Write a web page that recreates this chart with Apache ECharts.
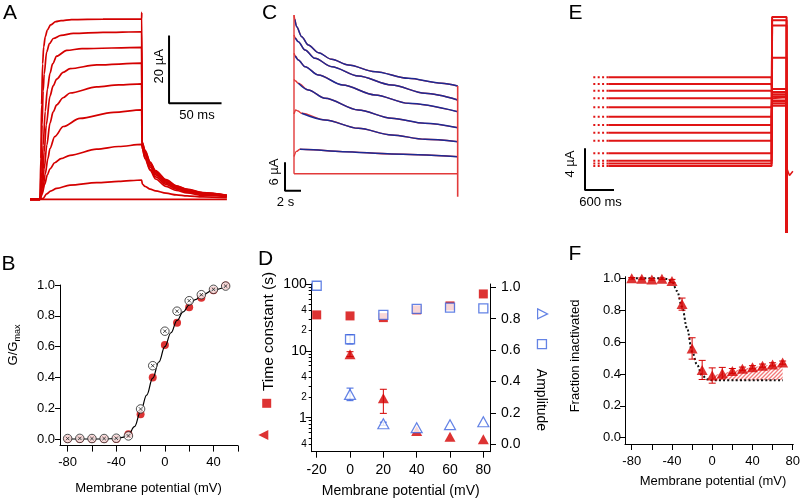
<!DOCTYPE html>
<html><head><meta charset="utf-8">
<script src="https://cdn.jsdelivr.net/npm/echarts@6/dist/echarts.min.js"></script>
<style>html,body{margin:0;padding:0;background:#fff}#c{width:800px;height:498px}</style>
</head><body><div id="c"></div>
<script>
// ================= DATA =================
// Panel A: activation traces, [time (ms), current (µA)]
const aTrace1 = [[-9.5,0],[0,0],[0.8,12],[1.5,28],[2.5,40],[3.5,45],[5,48],[7,50],[10,51.5],[15,52.5],[20,52.8],[30,53.1],[60,53.2],[96.8,53.3],[96.9,55.2],[97.2,17],[100,14.5],[105,11],[110,8.5],[120,5.8],[130,4.0],[140,3.0],[155,2.0],[178,1.2]];
const aTrace2 = [[-9.5,0],[0,0],[1,8],[2,22],[3,32],[4,37],[6.3,43.5],[9,46],[12.7,47.5],[20,48.4],[31.7,49.0],[60,49.3],[96.8,49.5],[97.2,16.8],[100,14.2],[105,10.8],[110,8.3],[120,5.6],[130,3.9],[140,2.9],[155,1.9],[178,1.2]];
const aTrace3 = [[-9.5,0],[0,0],[1.5,6],[3,16],[5,26],[7,32.5],[9.5,37.2],[12,40],[15.9,42.3],[25.4,44],[40,44.5],[96.8,44.9],[97.2,16.5],[100,13.9],[105,10.5],[110,8.0],[120,5.4],[130,3.7],[140,2.8],[155,1.8],[178,1.1]];
const aTrace4 = [[-9.5,0],[0,0],[2,5],[4,14],[6,22],[9.5,30.5],[12.5,33.5],[15.9,35.5],[22,37.5],[28.6,38.6],[54,39.7],[96.8,40.2],[97.2,16.2],[100,13.5],[105,10.0],[110,7.6],[120,5.1],[130,3.5],[140,2.6],[155,1.7],[178,1.0]];
const aTrace5 = [[-9.5,0],[0,0],[2,3],[4,9],[6.5,16],[9.5,22.5],[12.5,25.8],[15.9,27.9],[22,30],[28.6,31.4],[54,33.2],[75,33.8],[96.8,34.1],[97.2,15.8],[100,13.0],[105,9.5],[110,7.2],[120,4.8],[130,3.3],[140,2.5],[155,1.6],[178,1.0]];
const aTrace6 = [[-9.5,0],[0,0],[2.5,2.5],[5,7.5],[7.5,12],[9.5,15],[14,18.5],[22.2,21.5],[38,23.9],[70,25.7],[96.8,26.4],[97.2,15.5],[100,12.3],[105,8.8],[110,6.6],[120,4.4],[130,3.0],[140,2.2],[155,1.5],[178,0.9]];
const aTrace7 = [[-9.5,0],[0,0],[2,1.5],[4.5,4.5],[7,7.2],[9.5,9],[14,10.8],[20,12],[28.6,13],[54,14.8],[75,15.6],[96.8,16.2],[97.5,15],[100,12],[105,8.5],[110,6],[120,3.8],[130,2.6],[140,1.9],[155,1.2],[178,0.8]];
const aTrace8 = [[-9.5,0],[0,0],[3,0.3],[6.3,1.6],[10,2.4],[15.9,3.2],[28.6,4.2],[54,4.9],[75,5.3],[96.8,5.7],[97.5,4.5],[100,3.8],[105,3.0],[110,2.5],[120,1.8],[130,1.3],[140,1.0],[155,0.7],[178,0.5]];
const aTrace9 = [[-9.5,0],[178,0]];
const aTraces = [aTrace1,aTrace2,aTrace3,aTrace4,aTrace5,aTrace6,aTrace7,aTrace8,aTrace9];
const aScaleOrigin = [122.9, 28.4];   // ms, µA
const aScaleLen = [50, 20];           // 50 ms, 20 µA

// Panel B: normalized conductance
const bVoltage = [-80,-70,-60,-50,-40,-30,-20,-10,0,10,20,30,40,50];
const bFilled  = [0,0,0,0,0,0.03,0.16,0.40,0.61,0.755,0.855,0.918,0.966,0.997];
const bOpen    = [0.003,0.004,0.003,0.003,0.005,0.02,0.195,0.476,0.70,0.83,0.898,0.937,0.972,0.993];
const bFitV = [-80,-50,-40,-35,-30,-25,-20,-15,-10,-5,0,5,10,15,20,25,30,40,50];
const bFitG = [0,0,0.003,0.01,0.028,0.08,0.177,0.285,0.395,0.5,0.6,0.69,0.77,0.825,0.87,0.905,0.932,0.968,0.99];
const bXTicks = [-80,-60,-40,-20,0,20,40,60];
const bXLabels = [-80,-40,0,40];
const bYTicks = [0,0.2,0.4,0.6,0.8,1.0];

// Panel C: inactivating traces [time (s), current (µA)]
const cTrace1 = [[0,33.4],[0.1,32.5],[0.33,30.95],[0.96,28.85],[1.79,27.1],[3.04,25.48],[4.71,24.08],[6.79,22.88],[10.13,21.48],[14.3,20.07],[18.46,19.03],[20.46,18.46]];
const cTrace2 = [[0,29.2],[0.15,28.6],[0.54,27.8],[1.375,26.04],[2.625,24.29],[4.71,22.53],[8.04,20.57],[12.2,18.67],[16.375,16.92],[20.46,15.52]];
const cTrace3 = [[0,25.34],[0.15,24.8],[0.54,23.94],[1.375,22.53],[3.04,20.78],[6.08,18.67],[10.13,16.57],[14.3,14.81],[20.46,13.06]];
const cTrace4 = [[0,19.87],[0.2,19.5],[0.54,19.03],[1.79,17.62],[3.875,15.87],[8.04,13.41],[12.2,11.66],[16.375,10.6],[20.46,9.69]];
const cTrace5 = [[0,12.6],[0.21,13.41],[0.5,13.2],[0.96,12.71],[3.875,11.31],[8.04,9.55],[12.2,8.15],[16.375,7.24],[20.46,6.74]];
const cTrace6 = [[0,3.6],[0.3,4.7],[0.75,5.13],[1.5,5.1],[6.08,4.64],[12.2,4.15],[20.46,3.59]];
const cTrace7 = [[0,0],[20.46,0]];
const cTraces = [cTrace1,cTrace2,cTrace3,cTrace4,cTrace5,cTrace6,cTrace7];
const cFitStart = [0.05,0.1,0.1,0.3,0.6,0.7,4.7];   // s, where the fitted curve begins
const cEndLevel = -4.84;                          // µA after the step back
const cScaleOrigin = [-1.125, -3.58];
const cScaleLen = [2, 6];                         // 2 s, 6 µA

// Panel E: prepulse traces [µA] and test-pulse currents [µA]
const ePrepulse = [8.32,7.68,7.04,6.30,5.44,4.54,3.74,3.00,2.23,1.03,0.3,0.05,-0.2];
const eTest     = [6.9,7.2,6.7,6.4,6.1,6.0,5.8,6.5,5.6,10.2,13.3,13.8,14.1];
const eTimes = [0, 310, 3690, 3700, 4000];        // ms: start, end of dotted, end prepulse, test on, test off
const eDrop = -6.6;
const eTail = [[4000,-6.6],[4012,-0.5],[4060,-1.1],[4130,-0.7]];
const eScaleOrigin = [-172, -2.5];
const eScaleLen = [600, 4];                       // 600 ms, 4 µA

// Panel D
const dVoltage = [-20,0,20,40,60,80];
const dTauSlow = [34.5,33.3,31.4,41,47,71];
const dAmpSlow = [1.01,0.669,0.824,0.862,0.87,0.866];
const dFastVoltage = [0,20,40,60,80];
const dTauFast = [8.9,1.95,0.632,0.52,0.475];
const dAmpFast = [0.318,0.131,0.106,0.125,0.144];
const dTauFastErr = [[0,8.2,9.7],[20,1.16,2.66]];
const dAmpSlowErr = [[0,0.639,0.699]];
const dAmpFastErr = [[0,0.278,0.358],[20,0.121,0.141]];
const dXTicks = [-20,0,20,40,60,80];
const dTauMinorTicks = [0.4,0.5,0.6,0.7,0.8,0.9,2,3,4,5,6,7,8,9,20,30,40,50,60,70,80,90];
const dTauMajorTicks = [1,10,100];
const dTauMinorLabelValues = [0.4,2,4,20,40];
const dTauMinorLabels = ['4','2','4','2','4'];
const dTauMajorLabels = ['1','10','100'];
const dAmpTicks = [0,0.2,0.4,0.6,0.8,1.0];

// Panel F
const fVoltage = [-80,-70,-60,-50,-40,-30,-20,-10,0,10,20,30,40,50,60,70];
const fFrac = [1.0,0.997,0.993,0.997,0.983,0.838,0.56,0.425,0.39,0.405,0.419,0.433,0.442,0.452,0.46,0.471];
const fErr  = [0.005,0.005,0.005,0.005,0.01,0.038,0.067,0.06,0.048,0.036,0.015,0.01,0.01,0.01,0.01,0.01];
const fFitV = [-80,-50,-45,-40,-35,-30,-25,-20,-15,-10,-5,0,10,70];
const fFitY = [1.0,1.0,0.995,0.98,0.92,0.822,0.686,0.54,0.456,0.39,0.367,0.36,0.36,0.36];
const fXTicks = [-80,-60,-40,-20,0,20,40,60,80];
const fXLabels = [-80,-40,0,40,80];
const fYTicks = [0,0.2,0.4,0.6,0.8,1.0];

// ================= STYLE =================
const FONT = 'Liberation Sans, Arial, sans-serif';
const RED = '#d40000';
const RED_C = '#e23a3a';
const BLUE_C = '#1c2a94';
const BLUE_D = '#3d64de';
const RED_E = '#e01414';
const L10 = Math.log10;
const zip = (xs, ys) => xs.map((x, i) => [x, ys[i]]);

const chart = echarts.init(document.getElementById('c'), null, {renderer: 'canvas'});

function hiddenAxis(grid, min, max) {
  return {type: 'value', gridIndex: grid, min, max, show: false, splitLine: {show: false}};
}
function axis(grid, min, max, o) {
  const base = {
    type: 'value', gridIndex: grid, min, max,
    splitLine: {show: false},
    axisLine: {show: true, onZero: false, lineStyle: {color: '#000', width: 1}},
    axisTick: {show: true, inside: false, length: 5, lineStyle: {color: '#000', width: 1}},
    axisLabel: {show: true, color: '#000', fontFamily: FONT, fontSize: 13, margin: 6}
  };
  const r = Object.assign({}, base, o);
  if (o.axisLine) r.axisLine = Object.assign({}, base.axisLine, o.axisLine);
  if (o.axisTick) r.axisTick = Object.assign({}, base.axisTick, o.axisTick);
  if (o.axisLabel) r.axisLabel = Object.assign({}, base.axisLabel, o.axisLabel);
  return r;
}

// hatch pattern
const hc = document.createElement('canvas'); hc.width = 4; hc.height = 4;
const hg = hc.getContext('2d'); hg.strokeStyle = '#f37a7a'; hg.lineWidth = 1.3;
hg.beginPath(); hg.moveTo(0,4); hg.lineTo(4,0); hg.moveTo(-1,1); hg.lineTo(1,-1); hg.moveTo(3,5); hg.lineTo(5,3); hg.stroke();

const circleX = 'path://M0,10A10,10,0,1,1,20,10A10,10,0,1,1,0,10Z M6,6L14,14 M14,6L6,14';

function errSeries(xi, yi, data, color, capW, z) {
  return {
    type: 'custom', xAxisIndex: xi, yAxisIndex: yi, data, z, silent: true,
    encode: {x: 0, y: [1, 2]},
    renderItem(params, api) {
      const x = api.value(0), lo = api.value(1), hi = api.value(2);
      const p1 = api.coord([x, lo]), p2 = api.coord([x, hi]);
      const s = {stroke: color, lineWidth: 1};
      return {type: 'group', children: [
        {type: 'line', shape: {x1: p1[0], y1: p1[1], x2: p2[0], y2: p2[1]}, style: s},
        {type: 'line', shape: {x1: p1[0]-capW, y1: p1[1], x2: p1[0]+capW, y2: p1[1]}, style: s},
        {type: 'line', shape: {x1: p2[0]-capW, y1: p2[1], x2: p2[0]+capW, y2: p2[1]}, style: s}
      ]};
    }
  };
}
function lineS(xi, yi, data, color, width, extra) {
  return Object.assign({type: 'line', xAxisIndex: xi, yAxisIndex: yi, data, symbol: 'none', showSymbol: false,
    silent: true, lineStyle: {color, width}, z: 2}, extra || {});
}
function scaleBar(xi, yi, origin, len) {
  return lineS(xi, yi, [[origin[0]+len[0], origin[1]], origin, [origin[0], origin[1]+len[1]]], '#000', 2, {z: 5});
}

const series = [];
// ---- A
aTraces.forEach(tr => series.push(lineS(0, 0, tr, RED, 1.7, {smooth: 0.3, smoothMonotone: 'x'})));
series.push(scaleBar(0, 0, aScaleOrigin, aScaleLen));

// ---- B
series.push(lineS(1, 1, zip(bFitV, bFitG), '#000', 1.2, {smooth: 0.4, smoothMonotone: 'x', z: 4}));
series.push({type: 'scatter', xAxisIndex: 1, yAxisIndex: 1, data: zip(bVoltage, bFilled), symbol: 'circle', symbolSize: 8,
  itemStyle: {color: RED}, z: 3, silent: true});
series.push({type: 'scatter', xAxisIndex: 1, yAxisIndex: 1, data: zip(bVoltage, bOpen), symbol: circleX, symbolSize: 8.5,
  itemStyle: {color: '#fff', borderColor: '#222', borderWidth: 1}, z: 5, silent: true});

// ---- C
cTraces.forEach((tr, i) => {
  series.push(lineS(2, 2, tr, RED_C, 1.4, {smooth: 0.3, smoothMonotone: 'x'}));
  series.push(lineS(2, 2, tr.filter(p => p[0] >= cFitStart[i]), BLUE_C, 1.5, {smooth: 0.3, smoothMonotone: 'x', z: 3}));
});
series.push(lineS(2, 2, [[0, 0], [0, cTrace1[0][1]]], RED_C, 1.4, {z: 4}));
series.push(lineS(2, 2, [[cTrace1[cTrace1.length-1][0], cTrace1[cTrace1.length-1][1]], [cTrace1[cTrace1.length-1][0], cEndLevel]], RED_C, 1.6, {z: 4}));
series.push(scaleBar(2, 2, cScaleOrigin, cScaleLen));

// ---- E
ePrepulse.forEach((L, i) => {
  series.push(lineS(4, 6, [[eTimes[0], L], [eTimes[1], L]], RED_E, 2, {lineStyle: {color: RED_E, width: 2, type: [2, 2.4]}}));
  series.push(lineS(4, 6, [[eTimes[1], L], [eTimes[2], L], [eTimes[3], eTest[i]], [eTimes[4], eTest[i]], [eTimes[4], eDrop]], RED_E, 2));
});
series.push(lineS(4, 6, eTail, RED_E, 1.5));
series.push(scaleBar(4, 6, eScaleOrigin, eScaleLen));

// ---- D
series.push({name: 'Tau slow', type: 'scatter', xAxisIndex: 3, yAxisIndex: 3, data: dVoltage.map((v, i) => [v, L10(dTauSlow[i])]),
  symbol: 'rect', symbolSize: 9, itemStyle: {color: RED}, z: 3, silent: true});
series.push(errSeries(3, 3, dTauFastErr.map(e => [e[0], L10(e[1]), L10(e[2])]), RED, 3.5, 3));
series.push({name: 'Tau fast', type: 'scatter', xAxisIndex: 3, yAxisIndex: 3, data: dFastVoltage.map((v, i) => [v, L10(dTauFast[i])]),
  symbol: 'triangle', symbolSize: [11, 10], itemStyle: {color: RED}, z: 3, silent: true});
series.push(errSeries(3, 5, dAmpSlowErr, BLUE_D, 3.5, 4));
series.push(errSeries(3, 5, dAmpFastErr, BLUE_D, 3.5, 4));
series.push({name: 'Amp slow', type: 'scatter', xAxisIndex: 3, yAxisIndex: 5, data: zip(dVoltage, dAmpSlow),
  symbol: 'rect', symbolSize: 9, itemStyle: {color: '#fff', borderColor: BLUE_D, borderWidth: 1.3}, z: 5, silent: true});
series.push({name: 'Amp fast', type: 'scatter', xAxisIndex: 3, yAxisIndex: 5, data: zip(dFastVoltage, dAmpFast),
  symbol: 'triangle', symbolSize: [11, 10], itemStyle: {color: '#fff', borderColor: BLUE_D, borderWidth: 1.2}, z: 5, silent: true});

// ---- F
const hatchFrom = fVoltage.indexOf(0);
series.push(lineS(5, 7, zip(fVoltage.slice(hatchFrom), fFrac.slice(hatchFrom)), RED, 0,
  {lineStyle: {width: 0, opacity: 0}, areaStyle: {color: {image: hc, repeat: 'repeat'}, origin: fFitY[fFitY.length-1], opacity: 1}, z: 1}));
series.push(lineS(5, 7, zip(fFitV, fFitY), '#000', 2, {smooth: 0.35, smoothMonotone: 'x', lineStyle: {color: '#111', width: 2, type: [2, 2.2]}, z: 2}));
series.push(errSeries(5, 7, fVoltage.map((v, i) => [v, fFrac[i]-fErr[i], fFrac[i]+fErr[i]]), RED, 3.5, 3));
series.push({type: 'scatter', xAxisIndex: 5, yAxisIndex: 7, data: zip(fVoltage, fFrac), symbol: 'triangle', symbolSize: [11, 10],
  itemStyle: {color: RED}, z: 4, silent: true});

// ---- tick label lookups for log axis
const minorLabelMap = {}; dTauMinorLabelValues.forEach((v, i) => minorLabelMap[L10(v).toFixed(4)] = dTauMinorLabels[i]);
const majorLabelMap = {}; dTauMajorTicks.forEach((v, i) => majorLabelMap[L10(v).toFixed(4)] = dTauMajorLabels[i]);

function txt(t, x, y, size, rot, extra) {
  return {type: 'text', x, y, rotation: rot || 0, silent: true, z: 10,
    style: Object.assign({text: t, fontSize: size, fontFamily: FONT, fill: '#000', align: 'center', verticalAlign: 'middle'}, extra || {})};
}
const R90 = Math.PI / 2;

function legendKey(name, icon, cx, cy, size, style) {
  return {show: true, selectedMode: false, orient: 'vertical', padding: 0, itemGap: 0,
    left: cx - size / 2, top: cy - size / 2, itemWidth: size, itemHeight: size,
    formatter: () => '', textStyle: {fontSize: 1},
    data: [{name, icon, itemStyle: style}]};
}

const option = {
  animation: false,
  backgroundColor: '#fff',
  grid: [
    {left: 29.5, top: 9.74, width: 204.75, height: 192.94, outerBoundsMode: 'none'},
    {left: 60, top: 285, width: 177.8, height: 160.6, outerBoundsMode: 'none'},
    {left: 278, top: 7.45, width: 184, height: 192.35, outerBoundsMode: 'none'},
    {left: 311.7, top: 284, width: 178.3, height: 167.7, outerBoundsMode: 'none'},
    {left: 573.97, top: 2.5, width: 224.7, height: 236.5, outerBoundsMode: 'none'},
    {left: 625, top: 276.7, width: 168.3, height: 167.3, outerBoundsMode: 'none'}
  ],
  xAxis: [
    hiddenAxis(0, -10, 185),
    axis(1, -86.3, 60, {position: 'bottom', axisTick: {customValues: bXTicks, length: 6},
      axisLabel: {customValues: bXLabels, margin: 10, fontSize: 13, formatter: v => String(v)}}),
    hiddenAxis(2, -2, 21),
    axis(3, -23, 84, {position: 'bottom', axisTick: {customValues: dXTicks, length: 6},
      axisLabel: {customValues: dXTicks, margin: 11, fontSize: 14, formatter: v => String(v)}}),
    hiddenAxis(4, -400, 4250),
    axis(5, -86.7, 80.6, {position: 'bottom', axisTick: {customValues: fXTicks, length: 6},
      axisLabel: {customValues: fXLabels, margin: 11, fontSize: 13, formatter: v => String(v)}})
  ],
  yAxis: [
    hiddenAxis(0, -1, 56),
    axis(1, -0.0429, 1.0, {position: 'left', axisTick: {customValues: bYTicks, length: 5},
      axisLabel: {customValues: bYTicks, margin: 5, fontSize: 13, formatter: v => v.toFixed(1)}}),
    hiddenAxis(2, -5.5, 35),
    axis(3, -0.509, 2, {position: 'left', axisTick: {customValues: dTauMinorTicks.map(L10), length: 3},
      axisLabel: {customValues: dTauMinorLabelValues.map(L10), margin: 5, fontSize: 10, formatter: v => minorLabelMap[v.toFixed(4)] || ''}}),
    axis(3, -0.509, 2, {position: 'left', axisLine: {show: false}, axisTick: {customValues: dTauMajorTicks.map(L10), length: 6},
      axisLabel: {customValues: dTauMajorTicks.map(L10), margin: 5, fontSize: 14, formatter: v => majorLabelMap[v.toFixed(4)] || ''}}),
    axis(3, -0.047, 1.021, {position: 'right', axisTick: {customValues: dAmpTicks, length: 6},
      axisLabel: {customValues: dAmpTicks, margin: 11, fontSize: 14, formatter: v => v.toFixed(1)}}),
    hiddenAxis(4, -7.2, 15.5),
    axis(5, -0.0395, 1.01, {position: 'left', axisTick: {customValues: fYTicks, length: 5},
      axisLabel: {customValues: fYTicks, margin: 4, fontSize: 13, formatter: v => v.toFixed(1)}})
  ],
  legend: [
    legendKey('Tau slow', 'rect', 266.7, 403.3, 9, {color: RED}),
    legendKey('Tau fast', 'path://M10,0L10,10L0,5Z', 263.3, 435, 10, {color: RED}),
    legendKey('Amp fast', 'path://M0,0L10,5L0,10Z', 542, 313.3, 10, {color: '#fff', borderColor: BLUE_D, borderWidth: 1.2}),
    legendKey('Amp slow', 'rect', 541.3, 343.5, 9, {color: '#fff', borderColor: BLUE_D, borderWidth: 1.3})
  ],
  graphic: [
    txt('A', 10, 13, 21), txt('B', 8.5, 264, 21), txt('C', 269.5, 13, 21),
    txt('D', 265.5, 259, 21), txt('E', 575.5, 13, 21), txt('F', 575, 254, 21),
    txt('20 µA', 159, 66.3, 13, R90), txt('50 ms', 197, 115.3, 13),
    txt('6 µA', 274.5, 172, 13, R90), txt('2 s', 285.5, 202.5, 13),
    txt('4 µA', 570, 164, 13, R90), txt('600 ms', 600.5, 202, 13),
    txt('Membrane potential (mV)', 148.5, 488.5, 13),
    txt('G/G', 13.3, 353.5, 13, R90), txt('max', 17.2, 333, 9, R90),
    txt('Membrane potential (mV)', 400.7, 491, 14),
    txt('Time constant (s)', 268.3, 331.5, 15.5, R90),
    txt('Amplitude', 541, 400, 14, -R90),
    txt('Membrane potential (mV)', 713, 481, 13),
    txt('Fraction inactivated', 575, 356, 13, R90)
  ],
  series
};
chart.setOption(option);
</script>
</body></html>
